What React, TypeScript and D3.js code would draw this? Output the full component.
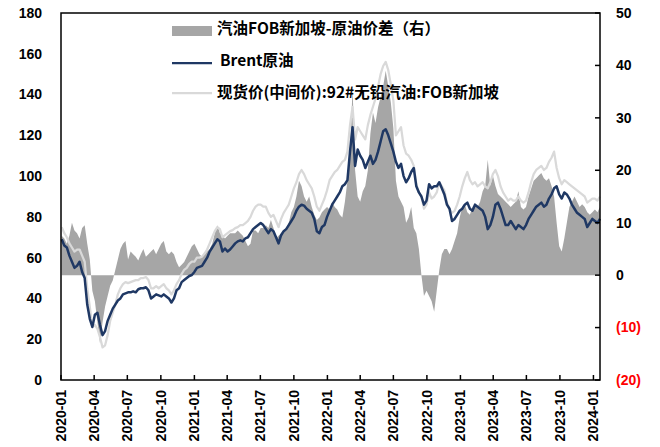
import * as d3 from 'd3';

// weekly readings (Fridays), starting 2020-01-03
const brent2020 = [69, 66, 65, 61, 58, 55, 56, 58, 53, 50, 37, 30, 26, 32, 33, 27, 22, 24, 29, 32, 35, 37, 39, 40, 42, 42.5, 43, 43, 43.5, 43, 44.5, 45, 45, 45.5, 44, 40, 41, 42, 41.5, 41, 42, 41, 40, 38, 40, 44, 45, 48, 49, 50, 51, 51.5];
const brent2021 = [53, 55, 55.5, 56, 58, 60, 63, 65, 67, 69, 68, 63, 64.5, 63, 64, 65.5, 67, 68, 68.5, 68, 69.5, 70, 72, 74, 75, 76, 77, 76, 74, 72, 74, 73, 70, 67, 71, 73, 74, 76, 78, 80, 83, 85, 86, 85.5, 84, 83, 82, 79, 73, 72, 75, 76, 80];
const brent2022 = [83, 86, 88, 90, 92, 95, 96, 98, 112, 124, 105, 113, 110, 108, 104, 107, 110, 106, 108, 112, 117, 122, 123, 120, 116, 112, 107, 104, 106, 100, 97, 99, 102, 104, 95, 92, 90, 86, 88, 96, 94, 95, 95, 97, 94, 91, 86, 84, 78, 79, 81, 83];
const brent2023 = [84, 86, 87, 84, 83, 86, 85, 84, 83, 80, 74, 76, 80, 86, 87, 84, 80, 76, 76, 78, 76, 74, 76, 75, 74, 76, 79, 81, 83, 85, 86, 87, 85, 86, 89, 91, 94, 95, 91, 89, 92, 91, 89, 86, 84, 82, 81, 80, 79, 75, 77, 79];
const brent2024 = [78, 77, 79];

const gasoline2020 = [75, 72, 70, 67, 65, 63, 64, 64, 61, 58, 45, 36, 26, 27, 25, 21, 16, 17, 22, 29, 33, 37, 42, 45, 47, 48, 47.5, 48, 48.5, 49, 49, 50, 50, 50.5, 49, 45, 45, 46, 45, 46, 47, 45, 44, 42, 44, 47, 49, 52, 54, 55, 57, 58];
const gasoline2021 = [58, 60, 60, 60.5, 62, 64, 67, 70, 73, 75, 74, 70, 71, 72, 73, 73.5, 74.5, 75, 76, 76, 77, 78, 80, 83, 85, 86, 86, 85, 85, 82, 80, 81, 78, 75, 79, 82, 84, 86, 90, 94, 97, 101, 103, 101, 98, 96, 94, 90, 85, 83, 86, 89, 93];
const gasoline2022 = [98, 100, 102, 103, 105, 107, 108, 112, 125, 134, 118, 124, 122, 120, 118, 125, 130, 134, 138, 144, 150, 154, 156, 152, 145, 137, 120, 122, 124, 115, 111, 110, 108, 105, 96, 92, 90, 84, 86, 92, 89, 90, 92, 97, 95, 93, 87, 84, 82, 83, 86, 90];
const gasoline2023 = [95, 99, 102, 98, 96, 97, 95, 96, 97, 95, 94, 97, 101, 103, 100, 95, 92, 90, 88, 89, 88, 88, 90, 88, 87, 88, 92, 97, 101, 103, 104, 105, 103, 104, 107, 109, 112, 104, 99, 96, 98, 97, 96, 95, 94, 93, 92, 91, 90, 87, 88, 89];
const gasoline2024 = [89, 88, 90];

const spread2020 = [7.5, 7, 6, 7.5, 10, 8.5, 8, 7, 9, 9.5, 6, 3, -3, -5, -9, -13, -9, -6, -4, -2, -1, 1, 3, 5, 6, 6.5, 3, 4.5, 4, 3.5, 2.8, 4, 5, 3.5, 4, 4.5, 5, 4, 5, 6, 6.5, 4.5, 4, 4.5, 4, 2.5, 1.5, 2, 2.5, 3.5, 4.5, 5.5];
const spread2021 = [6, 5, 4, 3.5, 4, 4.5, 5, 6, 8, 9.5, 8, 7.5, 7, 7.5, 8, 8, 8, 8.5, 8, 7.5, 6.5, 5.5, 6, 8.5, 8.5, 8, 9, 9, 9.5, 9, 10.5, 9, 7, 7.5, 8, 8.5, 9, 10, 12, 13, 15, 18, 17, 15, 14, 15, 13, 11.5, 10.5, 11, 12, 12.5, 13];
const spread2022 = [12.5, 14, 13, 12.5, 11.5, 11, 14, 18, 22, 36, 20, 15, 14, 16, 17, 20, 27, 31, 29, 32, 34, 36, 39, 36, 33, 28, 18, 15, 14, 13, 10, 11, 13, 9, 8, 5, 0, -4, -3, -4, -5, -7, -3, 1, 4, 5, 5, 4, 5, 6.5, 8, 11];
const spread2023 = [13, 13.5, 12, 11.5, 13, 13.5, 13, 14, 16, 17, 22, 17, 19, 17, 15.5, 15, 14.5, 14, 13.5, 13, 13.5, 14, 16, 13, 12.5, 13, 15, 16.5, 18, 18.5, 19, 19.5, 18.5, 18, 18.5, 17, 15, 10, 5.5, 4.5, 7, 10, 13, 14, 15, 14, 13, 13.5, 13, 12, 11.5, 12];
const spread2024 = [12.5, 12, 13];

const leftTicks = [0, 20, 40, 60, 80, 100, 120, 140, 160, 180];
const rightTicks = [-20, -10, 0, 10, 20, 30, 40, 50];

const legendArea = '汽油FOB新加坡-原油价差（右）';
const legendBrent = 'Brent原油';
const legendGasoline = '现货价(中间价):92#无铅汽油:FOB新加坡';

const brent = [...brent2020, ...brent2021, ...brent2022, ...brent2023, ...brent2024];
const gasoline = [...gasoline2020, ...gasoline2021, ...gasoline2022, ...gasoline2023, ...gasoline2024];
const spread = [...spread2020, ...spread2021, ...spread2022, ...spread2023, ...spread2024];
const firstFriday = new Date(2020, 0, 3);
const dates = brent.map((_, i) => d3.timeDay.offset(firstFriday, i * 7));

const W = 660;
const H = 447;
const left = 61;
const right = 600;
const top = 13;
const bottom = 380;

const font = '"Liberation Sans", Arial, sans-serif';
const cjkFont = '"Noto Sans CJK SC", "Liberation Sans", sans-serif';

export default function App() {
  const x = d3.scaleTime().domain([new Date(2020, 0, 1), new Date(2024, 0, 19)]).range([left, right]);
  const yL = d3.scaleLinear().domain([0, 180]).range([bottom, top]);
  const yR = d3.scaleLinear().domain([-20, 50]).range([bottom, top]);

  const area = d3
    .area<number>()
    .x((_, i) => x(dates[i]))
    .y0(yR(0))
    .y1((d) => yR(d));
  const lineL = d3
    .line<number>()
    .x((_, i) => x(dates[i]))
    .y((d) => yL(d));

  const xTicks = d3.timeMonth.every(3)!.range(new Date(2020, 0, 1), new Date(2024, 0, 2));
  const fmt = d3.timeFormat('%Y-%m');

  return (
    <svg width={W} height={H} style={{ position: 'absolute', left: 0, top: 0, background: '#fff' }}>
      <path d={area(spread) || ''} fill="#A6A6A6" />
      <path d={lineL(gasoline) || ''} fill="none" stroke="#D9D9D9" strokeWidth={2.25} strokeLinejoin="round" />
      <path d={lineL(brent) || ''} fill="none" stroke="#1F3864" strokeWidth={2.5} strokeLinejoin="round" />

      {/* frame */}
      <rect x={left} y={top} width={right - left} height={bottom - top} fill="none" stroke="#000" strokeWidth={1.5} />

      {/* left axis labels */}
      {leftTicks.map((t) => (
        <text key={t} x={42} y={yL(t)} dy="0.35em" textAnchor="end" fontFamily={font} fontWeight="bold" fontSize={14} fill="#000">
          {t}
        </text>
      ))}

      {/* right axis ticks and labels */}
      {rightTicks.map((t) => (
        <g key={t}>
          <line x1={right - 5} x2={right} y1={yR(t)} y2={yR(t)} stroke="#000" strokeWidth={1.5} />
          <text x={616} y={yR(t)} dy="0.35em" fontFamily={font} fontWeight="bold" fontSize={14} fill={t < 0 ? '#FF0000' : '#000'}>
            {t < 0 ? `(${-t})` : t}
          </text>
        </g>
      ))}

      {/* bottom ticks and labels */}
      {xTicks.map((d) => (
        <g key={d.getTime()}>
          <line x1={x(d)} x2={x(d)} y1={bottom - 5} y2={bottom} stroke="#000" strokeWidth={1.5} />
          <text
            transform={`translate(${x(d)},${bottom + 10}) rotate(-90)`}
            dy="0.35em"
            textAnchor="end"
            fontFamily={font}
            fontWeight="bold"
            fontSize={14}
            fill="#000"
          >
            {fmt(d)}
          </text>
        </g>
      ))}

      {/* legend */}
      <rect x={172} y={26} width={40} height={10} fill="#A6A6A6" />
      <text x={217} y={29} dy="0.35em" fontFamily={cjkFont} fontWeight="bold" fontSize={15.5} fill="#000">
        {legendArea}
      </text>
      <line x1={172} x2={212} y1={63} y2={63} stroke="#1F3864" strokeWidth={2.25} />
      <text x={220} y={61} dy="0.35em" fontFamily={cjkFont} fontWeight="bold" fontSize={15.5} fill="#000">
        {legendBrent}
      </text>
      <line x1={172} x2={212} y1={93} y2={93} stroke="#D9D9D9" strokeWidth={2.25} />
      <text x={217} y={93} dy="0.35em" fontFamily={cjkFont} fontWeight="bold" fontSize={15.5} fill="#000">
        {legendGasoline}
      </text>
    </svg>
  );
}
